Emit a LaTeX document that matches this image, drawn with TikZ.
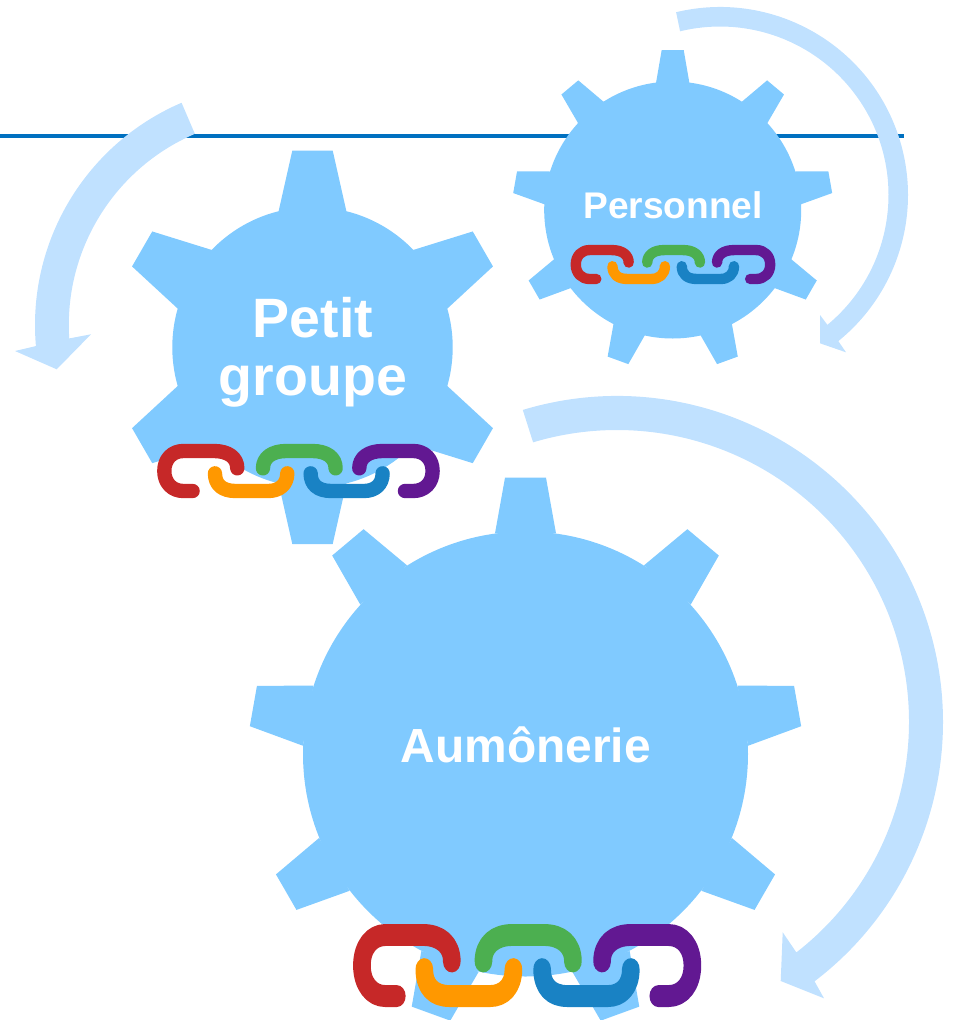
\documentclass[tikz,border=0pt]{standalone}
\usepackage{fontspec}
\setmainfont{Liberation Sans}
\usepackage{xcolor}

\definecolor{gearblue}{RGB}{128,202,255}
\definecolor{arrowblue}{RGB}{192,225,255}
\definecolor{ruleblue}{RGB}{0,112,192}
\definecolor{linkred}{RGB}{198,40,40}
\definecolor{linkorange}{RGB}{255,152,0}
\definecolor{linkgreen}{RGB}{76,175,80}
\definecolor{linkblue}{RGB}{25,130,196}
\definecolor{linkpurple}{RGB}{98,24,146}

\tikzset{
  gearfill/.style={fill=gearblue},
  turnarrow/.style={fill=arrowblue},
  gearlabel/.style={text=white,inner sep=0pt,anchor=base},
  chainlink/.style={line width=43pt,line cap=round,line join=round}
}

% center x, center y, body radius, base half width, base distance, tip half width, tip distance, tooth angles
\newcommand{\gearwheel}[8]{
  \fill[gearfill] (#1,#2) circle[radius=#3];
  \foreach \a in {#8}
    \fill[gearfill,shift={(#1,#2)},rotate=\a] (-#4,-#5) -- (-#6,-#7) -- (#6,-#7) -- (#4,-#5) -- cycle;
}

% left x, top y, xscale, yscale
\newcommand{\linkchain}[4]{
  \begin{scope}[transform canvas={shift={(#1,#2)},xscale=#3,yscale=#4},chainlink]
    \draw[linkred] (240,73) .. controls (240,40) and (212,21) .. (170,21) -- (78,21) .. controls (45,21) and (21,45) .. (21,81) .. controls (21,117) and (45,141) .. (78,141) -- (106,141);
    \draw[linkorange] (173,88) .. controls (173,122) and (195,141) .. (235,141) -- (333,141) .. controls (366,141) and (390,122) .. (390,88);
    \draw[linkgreen] (317,73) .. controls (317,40) and (345,21) .. (387,21) -- (465,21) .. controls (507,21) and (535,40) .. (535,73);
    \draw[linkblue] (460,88) .. controls (460,122) and (482,141) .. (522,141) -- (620,141) .. controls (653,141) and (676,122) .. (676,88);
    \draw[linkpurple] (606,73) .. controls (606,40) and (634,21) .. (676,21) -- (768,21) .. controls (802,21) and (826,45) .. (826,81) .. controls (826,117) and (802,141) .. (768,141) -- (743,141);
  \end{scope}
}

\begin{document}
\begin{tikzpicture}[x=1pt,y=-1pt]
  \useasboundingbox (0,0) rectangle (953,1020);

  % rule behind everything
  \coordinate (ruleL) at (0,136);
  \coordinate (ruleR) at (904,136);
  \draw[ruleblue,line width=4.3pt] (ruleL) -- (ruleR);

  % turning arrows
  \begin{scope}[shift={(720,195)}]
    \fill[turnarrow] (256.5:188) arc[start angle=256.5,end angle=411,radius=188] -- (846-720,352.3-195) -- (820-720,343.3-195) -- (820-720,315-195) -- (410.4:168.5) arc[start angle=410.4,end angle=256.3,radius=168.5] -- cycle;
  \end{scope}
  \begin{scope}[shift={(276.8,325)}]
    \fill[turnarrow] (246.8:241.8) arc[start angle=246.8,end angle=175,radius=241.8] -- (15-276.8,351-325) -- (56.7-276.8,369.3-325) -- (91-276.8,334.3-325) -- (176.3:208) arc[start angle=176.3,end angle=246.8,radius=208] -- cycle;
  \end{scope}
  \begin{scope}[shift={(617,722)}]
    \fill[turnarrow] (253.2:326) arc[start angle=253.2,end angle=412.7,radius=326] -- (824-617,998.3-722) -- (780.7-617,981-722) -- (782.7-617,932.3-722) -- (412.1:292) arc[start angle=412.1,end angle=253.3,radius=292] -- cycle;
  \end{scope}

  % gears
  \gearwheel{672.7}{210}{128.5}{16.7}{127}{11}{160}{0,40,...,320}
  \gearwheel{312.5}{347.3}{140.2}{34}{135.6}{20.2}{196.7}{0,60,...,300}
  \gearwheel{525.5}{754}{222.5}{30.5}{220.7}{20.5}{276.3}{0,40,...,320}

  % labels
  \node[gearlabel,font={\bfseries\fontsize{37.1}{40}\selectfont}] (personnel) at (673,218.3) {Personnel};
  \node[gearlabel,anchor=center,align=center,font={\bfseries\fontsize{55.5}{57.6}\selectfont}] (petit) at (313,352.5) {Petit\\groupe};
  \node[gearlabel,font={\bfseries\fontsize{47.9}{50}\selectfont}] (aumonerie) at (525.8,762.7) {Aumônerie};

  % chains
  \linkchain{570.7}{245}{0.2415}{0.241}
  \linkchain{157.3}{444}{0.3333}{0.3333}
  \linkchain{353.3}{924.3}{0.4105}{0.509}
\end{tikzpicture}
\end{document}
